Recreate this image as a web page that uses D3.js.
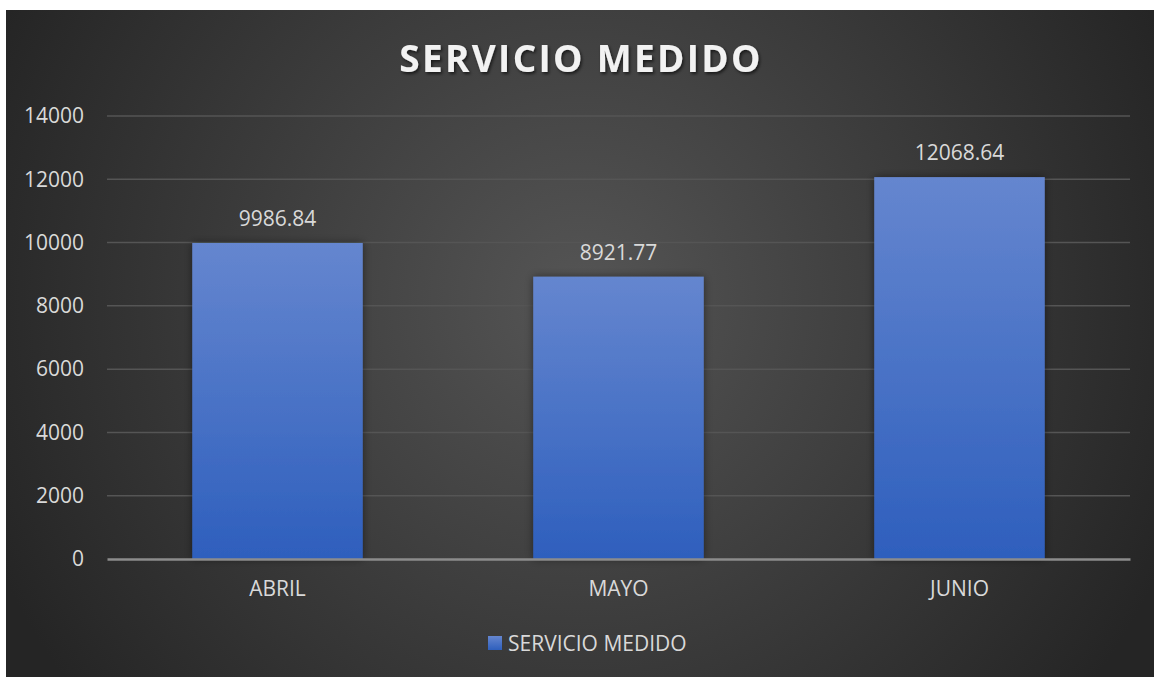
<!DOCTYPE html>
<html>
<head>
<meta charset="utf-8">
<script src="https://cdn.jsdelivr.net/npm/d3@7"></script>
<style>
  body { margin: 0; background: #fff; }
  svg { display: block; }
</style>
</head>
<body>
<svg id="chart" width="1154" height="677"></svg>
<script>
// datos del gráfico
const chartTitle = "SERVICIO MEDIDO";
const seriesName = "SERVICIO MEDIDO";
const months = ["ABRIL", "MAYO", "JUNIO"];
const values = [9986.84, 8921.77, 12068.64];
const yTicks = [0, 2000, 4000, 6000, 8000, 10000, 12000, 14000];

const svg = d3.select("#chart");
const W = 1154, H = 677;
const font = "'Open Sans', 'Noto Sans', sans-serif";
const labelSize = "21px";

const defs = svg.append("defs");

// fondo degradado radial
const bg = defs.append("radialGradient")
    .attr("id", "bgGrad")
    .attr("gradientUnits", "userSpaceOnUse")
    .attr("cx", 580).attr("cy", 300).attr("r", 640);
bg.append("stop").attr("offset", "0%").attr("stop-color", "#555555");
bg.append("stop").attr("offset", "100%").attr("stop-color", "#252525");

// degradado de las barras
const barGrad = defs.append("linearGradient")
    .attr("id", "barGrad")
    .attr("x1", 0).attr("y1", 0).attr("x2", 0).attr("y2", 1);
barGrad.append("stop").attr("offset", "0%").attr("stop-color", "#6586cf");
barGrad.append("stop").attr("offset", "100%").attr("stop-color", "#2e5fbd");

const shadow = defs.append("filter").attr("id", "barShadow")
    .attr("x", "-20%").attr("y", "-20%").attr("width", "140%").attr("height", "140%");
shadow.append("feDropShadow")
    .attr("dx", 0).attr("dy", 0).attr("stdDeviation", 4)
    .attr("flood-color", "#000").attr("flood-opacity", 0.45);

const titleShadow = defs.append("filter").attr("id", "titleShadow");
titleShadow.append("feDropShadow")
    .attr("dx", 1.5).attr("dy", 2).attr("stdDeviation", 1.5)
    .attr("flood-color", "#000").attr("flood-opacity", 0.6);

svg.append("rect")
    .attr("x", 6).attr("y", 10)
    .attr("width", W - 6).attr("height", H - 10)
    .attr("fill", "url(#bgGrad)");

const margin = { top: 116, left: 107, right: 24, bottom: 118 };
const width = W - margin.left - margin.right;
const height = H - margin.top - margin.bottom;

const g = svg.append("g")
    .attr("transform", `translate(${margin.left},${margin.top})`);

const x = d3.scaleBand()
    .domain(months)
    .range([0, width])
    .paddingInner(0.5)
    .paddingOuter(0.25);

const y = d3.scaleLinear()
    .domain([0, 14000])
    .range([height, 0]);

// líneas de cuadrícula
g.selectAll(".grid")
    .data(yTicks.filter(d => d > 0))
    .enter()
    .append("line")
    .attr("x1", 0).attr("x2", width)
    .attr("y1", d => y(d)).attr("y2", d => y(d))
    .attr("stroke", "#555555")
    .attr("stroke-width", 1.5);

// eje Y
const yAxis = g.append("g")
    .call(d3.axisLeft(y).tickValues(yTicks).tickSize(0).tickPadding(23).tickFormat(d3.format("d")));
yAxis.select(".domain").remove();
yAxis.selectAll("text")
    .style("fill", "#d9d9d9")
    .style("font-family", font)
    .style("font-size", labelSize);

// barras
g.selectAll(".bar")
    .data(values)
    .enter()
    .append("rect")
    .attr("class", "bar")
    .attr("x", (d, i) => x(months[i]))
    .attr("y", d => y(d))
    .attr("width", x.bandwidth())
    .attr("height", d => height - y(d))
    .attr("fill", "url(#barGrad)")
    .attr("filter", "url(#barShadow)");

// eje X
const xAxis = g.append("g")
    .attr("transform", `translate(0,${height})`)
    .call(d3.axisBottom(x).tickSize(0).tickPadding(22));
xAxis.select(".domain")
    .attr("stroke", "#8c8c8c")
    .attr("stroke-width", 2.5);
xAxis.selectAll("text")
    .style("fill", "#d9d9d9")
    .style("font-family", font)
    .style("font-size", labelSize);

// etiquetas de datos
g.selectAll(".label")
    .data(values)
    .enter()
    .append("text")
    .attr("x", (d, i) => x(months[i]) + x.bandwidth() / 2)
    .attr("y", d => y(d) - 17)
    .attr("text-anchor", "middle")
    .style("fill", "#d9d9d9")
    .style("font-family", font)
    .style("font-size", labelSize)
    .text(d => d3.format(".2f")(d));

// título
svg.append("text")
    .attr("x", 581).attr("y", 72)
    .attr("text-anchor", "middle")
    .attr("filter", "url(#titleShadow)")
    .style("fill", "#f2f2f2")
    .style("font-family", font)
    .style("font-weight", "700")
    .style("font-size", "37px")
    .style("letter-spacing", "2.3px")
    .text(chartTitle);

// leyenda
const legend = svg.append("g").attr("transform", "translate(488,636)");
legend.append("rect")
    .attr("width", 14).attr("height", 14)
    .attr("fill", "url(#barGrad)");
legend.append("text")
    .attr("x", 20).attr("y", 15)
    .style("fill", "#d9d9d9")
    .style("font-family", font)
    .style("font-size", labelSize)
    .text(seriesName);
</script>
</body>
</html>
